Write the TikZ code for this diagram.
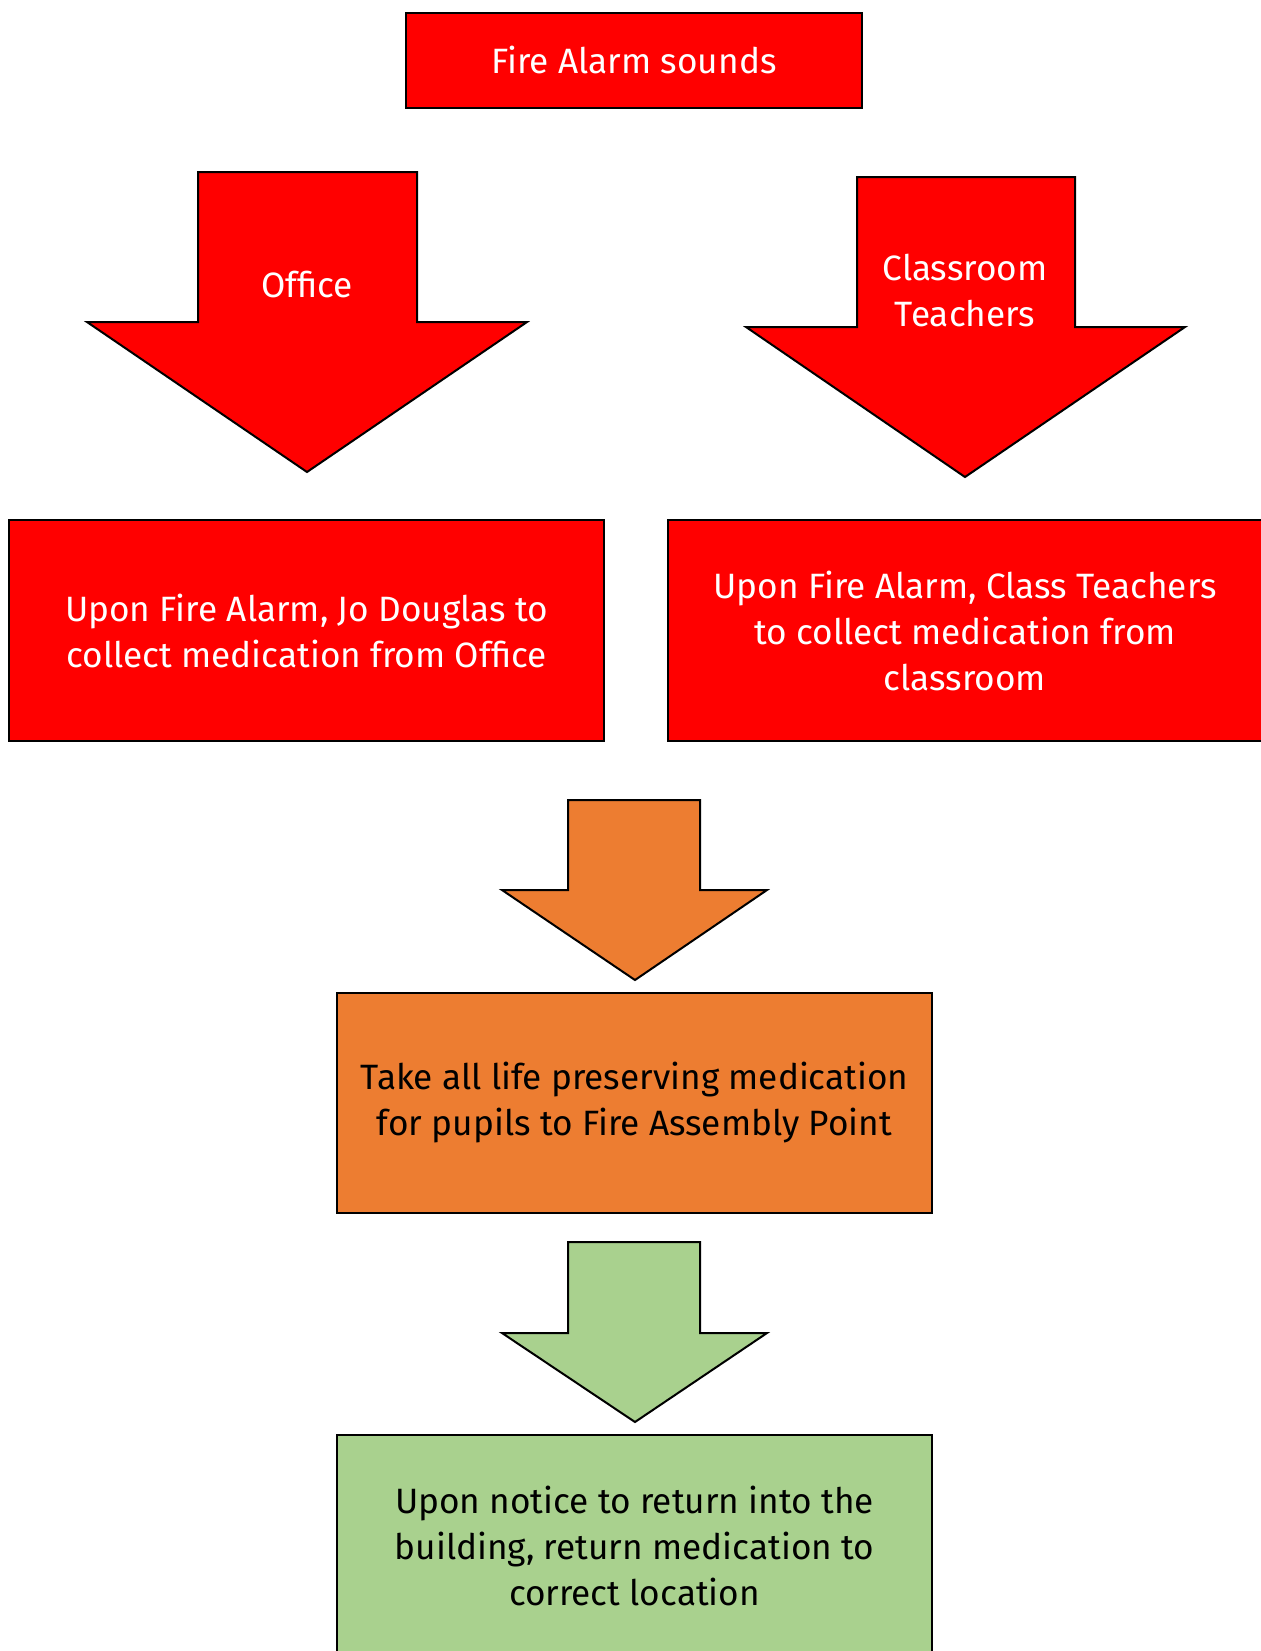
\documentclass[tikz,border=0pt]{standalone}
\usepackage{fontspec}
\setmainfont{Fira Sans}
\definecolor{alarmred}{HTML}{FF0000}
\definecolor{medorange}{HTML}{ED7D31}
\definecolor{returngreen}{HTML}{A9D18E}
\tikzset{
	stepbox/.style={draw=black, line width=1pt, inner sep=0pt, outer sep=0pt, align=center, font=\fontsize{17.6}{23}\selectfont},
	arrowlabel/.style={align=center, text=white, font=\fontsize{17.6}{23}\selectfont},
}

\begin{document}
\begin{tikzpicture}[x=0.5pt, y=-0.5pt]
	\useasboundingbox (0, 0) rectangle (1261, 1651);
	% top box
	\node[stepbox, fill=alarmred, text=white, minimum width=228pt, minimum height=47.5pt] (alarm) at (634, 60) {Fire Alarm sounds};
	% office arrow
	\path[draw, line width=1pt, fill=alarmred] (198, 172) -- (417, 172) -- (417, 322) -- (527, 322) -- (307, 472) -- (87, 322) -- (198, 322) -- cycle;
	\node[arrowlabel] (office) at (307, 284) {Office};
	% classroom arrow
	\path[draw, line width=1pt, fill=alarmred] (857, 177) -- (1075, 177) -- (1075, 327) -- (1185, 327) -- (965, 477) -- (746, 327) -- (857, 327) -- cycle;
	\node[arrowlabel] (classroom) at (965, 290) {Classroom\\Teachers};
	% collect boxes
	\node[stepbox, fill=alarmred, text=white, minimum width=297.5pt, minimum height=110.5pt] (officebox) at (306.5, 630.5) {Upon Fire Alarm, Jo Douglas to\\collect medication from Office};
	\node[stepbox, fill=alarmred, text=white, minimum width=297pt, minimum height=110.5pt] (classbox) at (965, 630.5) {Upon Fire Alarm, Class Teachers\\to collect medication from\\classroom};
	% orange arrow and box
	\path[draw, line width=1pt, fill=medorange] (568, 800) -- (700, 800) -- (700, 890) -- (767, 890) -- (635, 980) -- (502, 890) -- (568, 890) -- cycle;
	\node[stepbox, fill=medorange, minimum width=297.5pt, minimum height=110pt] (assembly) at (634.5, 1103) {Take all life preserving medication\\for pupils to Fire Assembly Point};
	% green arrow and box
	\path[draw, line width=1pt, fill=returngreen] (568, 1242) -- (700, 1242) -- (700, 1333) -- (767, 1333) -- (635, 1422) -- (502, 1333) -- (568, 1333) -- cycle;
	\node[stepbox, fill=returngreen, minimum width=297.5pt, minimum height=111pt] (return) at (634.5, 1546) {Upon notice to return into the\\building, return medication to\\correct location};
\end{tikzpicture}
\end{document}
